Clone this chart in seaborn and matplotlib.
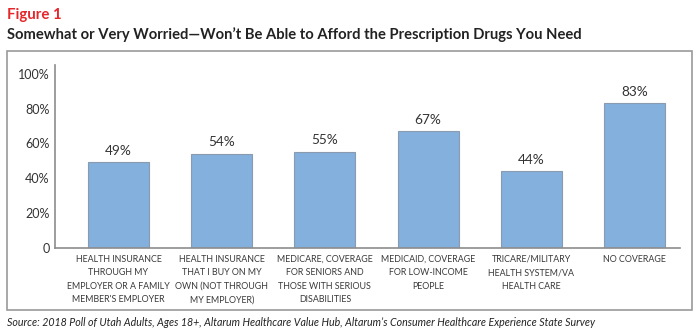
import matplotlib
matplotlib.use("Agg")
import matplotlib.pyplot as plt
import seaborn as sns
import pandas as pd
from matplotlib.patches import Rectangle

categories = [
    "HEALTH INSURANCE\nTHROUGH MY\nEMPLOYER OR A FAMILY\nMEMBER'S EMPLOYER",
    "HEALTH INSURANCE\nTHAT I BUY ON MY\nOWN (NOT THROUGH\nMY EMPLOYER)",
    "MEDICARE, COVERAGE\nFOR SENIORS AND\nTHOSE WITH SERIOUS\nDISABILITIES",
    "MEDICAID, COVERAGE\nFOR LOW-INCOME\nPEOPLE",
    "TRICARE/MILITARY\nHEALTH SYSTEM/VA\nHEALTH CARE",
    "NO COVERAGE",
]
values = [49, 54, 55, 67, 44, 83]
yticks = [0, 20, 40, 60, 80, 100]
ytick_labels = ["0", "20%", "40%", "60%", "80%", "100%"]

sns.set_theme(style="white")
plt.rcParams["font.family"] = ["Lato", "DejaVu Sans"]

fig = plt.figure(figsize=(7, 3.36), dpi=100)
ax = fig.add_axes([55/700, 1-247.7/336, (680-55)/700, (247.7-65)/336])

df = pd.DataFrame({"cat": categories, "val": values})
sns.barplot(data=df, x="cat", y="val", color="#84b0dd", saturation=1,
            width=0.59, edgecolor="#8a9bb0", linewidth=0.8, ax=ax)

ax.set_ylim(0, 105)
ax.set_xlim(-0.615, 5.44)
ax.set_yticks(yticks)
ax.set_yticklabels(ytick_labels, fontsize=9, color="#333333")
ax.tick_params(axis="both", length=0)
ax.tick_params(axis="y", pad=4)
ax.tick_params(axis="x", pad=5)
for lab in ax.get_xticklabels():
    lab.set_fontsize(6.4)
    lab.set_color("#3a3a3a")
    lab.set_linespacing(1.64)
ax.set_xlabel("")
ax.set_ylabel("")
for s in ["top", "right"]:
    ax.spines[s].set_visible(False)
for s in ["left", "bottom"]:
    ax.spines[s].set_color("#8c8c8c")
    ax.spines[s].set_linewidth(1.2)

for cont in ax.containers:
    ax.bar_label(cont, labels=[f"{v}%" for v in values], padding=4,
                 fontsize=9.8, color="#333333")

# border box
fig.patches.append(Rectangle((7/700, 1-310/336), (692-7)/700, (310-50.5)/336,
                             transform=fig.transFigure, fill=False,
                             edgecolor="#9a9a9a", linewidth=1.2))

fig.text(7/700, 1-18.5/336, "Figure 1", color="#e5262b", fontsize=10.8,
         fontweight="bold", ha="left", va="baseline")
fig.text(7/700, 1-38.5/336,
         "Somewhat or Very Worried\u2014Won\u2019t Be Able to Afford the Prescription Drugs You Need",
         color="#222222", fontsize=10.6, fontweight="bold", ha="left", va="baseline")
fig.text(7/700, 1-326/336,
         "Source: 2018 Poll of Utah Adults, Ages 18+, Altarum Healthcare Value Hub, Altarum\u2019s Consumer Healthcare Experience State Survey",
         color="#222222", fontsize=7.7, style="italic", ha="left", va="baseline")

fig.savefig("out.png", dpi=100)
